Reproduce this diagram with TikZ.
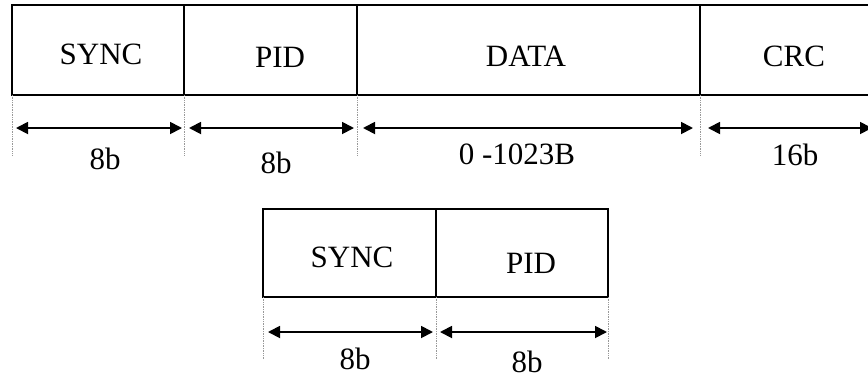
\documentclass[tikz,border=0pt]{standalone}
\usepackage{fontspec}
\setmainfont{Liberation Serif}
\usetikzlibrary{arrows.meta}
\begin{document}
\begin{tikzpicture}[x=1pt,y=-1pt,
  field/.style={draw, line width=2.6pt, minimum height=90pt, inner sep=0pt, outer sep=0pt, anchor=north west},
  lbl/.style={font=\fontsize{31}{37}\selectfont, inner sep=0pt},
  guide/.style={draw=gray!80, line width=0.7pt, densely dotted},
  span/.style={line width=1.8pt, {Triangle[length=12pt,width=12pt]}-{Triangle[length=12pt,width=12pt]}}]
\useasboundingbox (0,0) rectangle (868,378);

% full packet
\node[field, minimum width=172pt] (sync) at (12,5) {};
\node[field, minimum width=173pt] (pid)  at (sync.north east) {};
\node[field, minimum width=343pt] (data) at (pid.north east) {};
\node[field, minimum width=190pt] (crc)  at (data.north east) {};

\node[lbl] (syncT) at (101,54) {SYNC};
\node[lbl] (pidT)  at (280,57) {PID};
\node[lbl] (dataT) at (526,56) {DATA};
\node[lbl] (crcT)  at (794,56) {CRC};

\foreach \a in {sync.south west, pid.south west, data.south west, crc.south west}
  \draw[guide] (\a) -- ++(0,60);

\coordinate (row1) at (0,128);
\draw[span] ([xshift=4]sync.south west |- row1) -- ([xshift=-2]sync.south east |- row1);
\draw[span] ([xshift=5]pid.south west |- row1) -- ([xshift=-3]pid.south east |- row1);
\draw[span] ([xshift=6]data.south west |- row1) -- ([xshift=-7]data.south east |- row1);
\draw[span] ([xshift=8]crc.south west |- row1) -- ([xshift=172]crc.south west |- row1);

\node[lbl] (syncW) at (105,159) {8b};
\node[lbl] (pidW)  at (276,163) {8b};
\node[lbl] (dataW) at (517,154) {0 -1023B};
\node[lbl] (crcW)  at (795,155) {16b};

% handshake packet
\node[field, minimum width=173pt, minimum height=88pt] (hsync) at (263,209) {};
\node[field, minimum width=172pt, minimum height=88pt] (hpid)  at (hsync.north east) {};

\node[lbl] (hsyncT) at (352,257) {SYNC};
\node[lbl] (hpidT)  at (531,263) {PID};

\foreach \a in {hsync.south west, hpid.south west, hpid.south east}
  \draw[guide] (\a) -- ++(0,62);

\coordinate (row2) at (0,332);
\draw[span] ([xshift=5]hsync.south west |- row2) -- ([xshift=-3]hsync.south east |- row2);
\draw[span] ([xshift=4]hpid.south west |- row2) -- ([xshift=-1]hpid.south east |- row2);

\node[lbl] (hsyncW) at (355,359) {8b};
\node[lbl] (hpidW)  at (527,362) {8b};
\end{tikzpicture}
\end{document}
